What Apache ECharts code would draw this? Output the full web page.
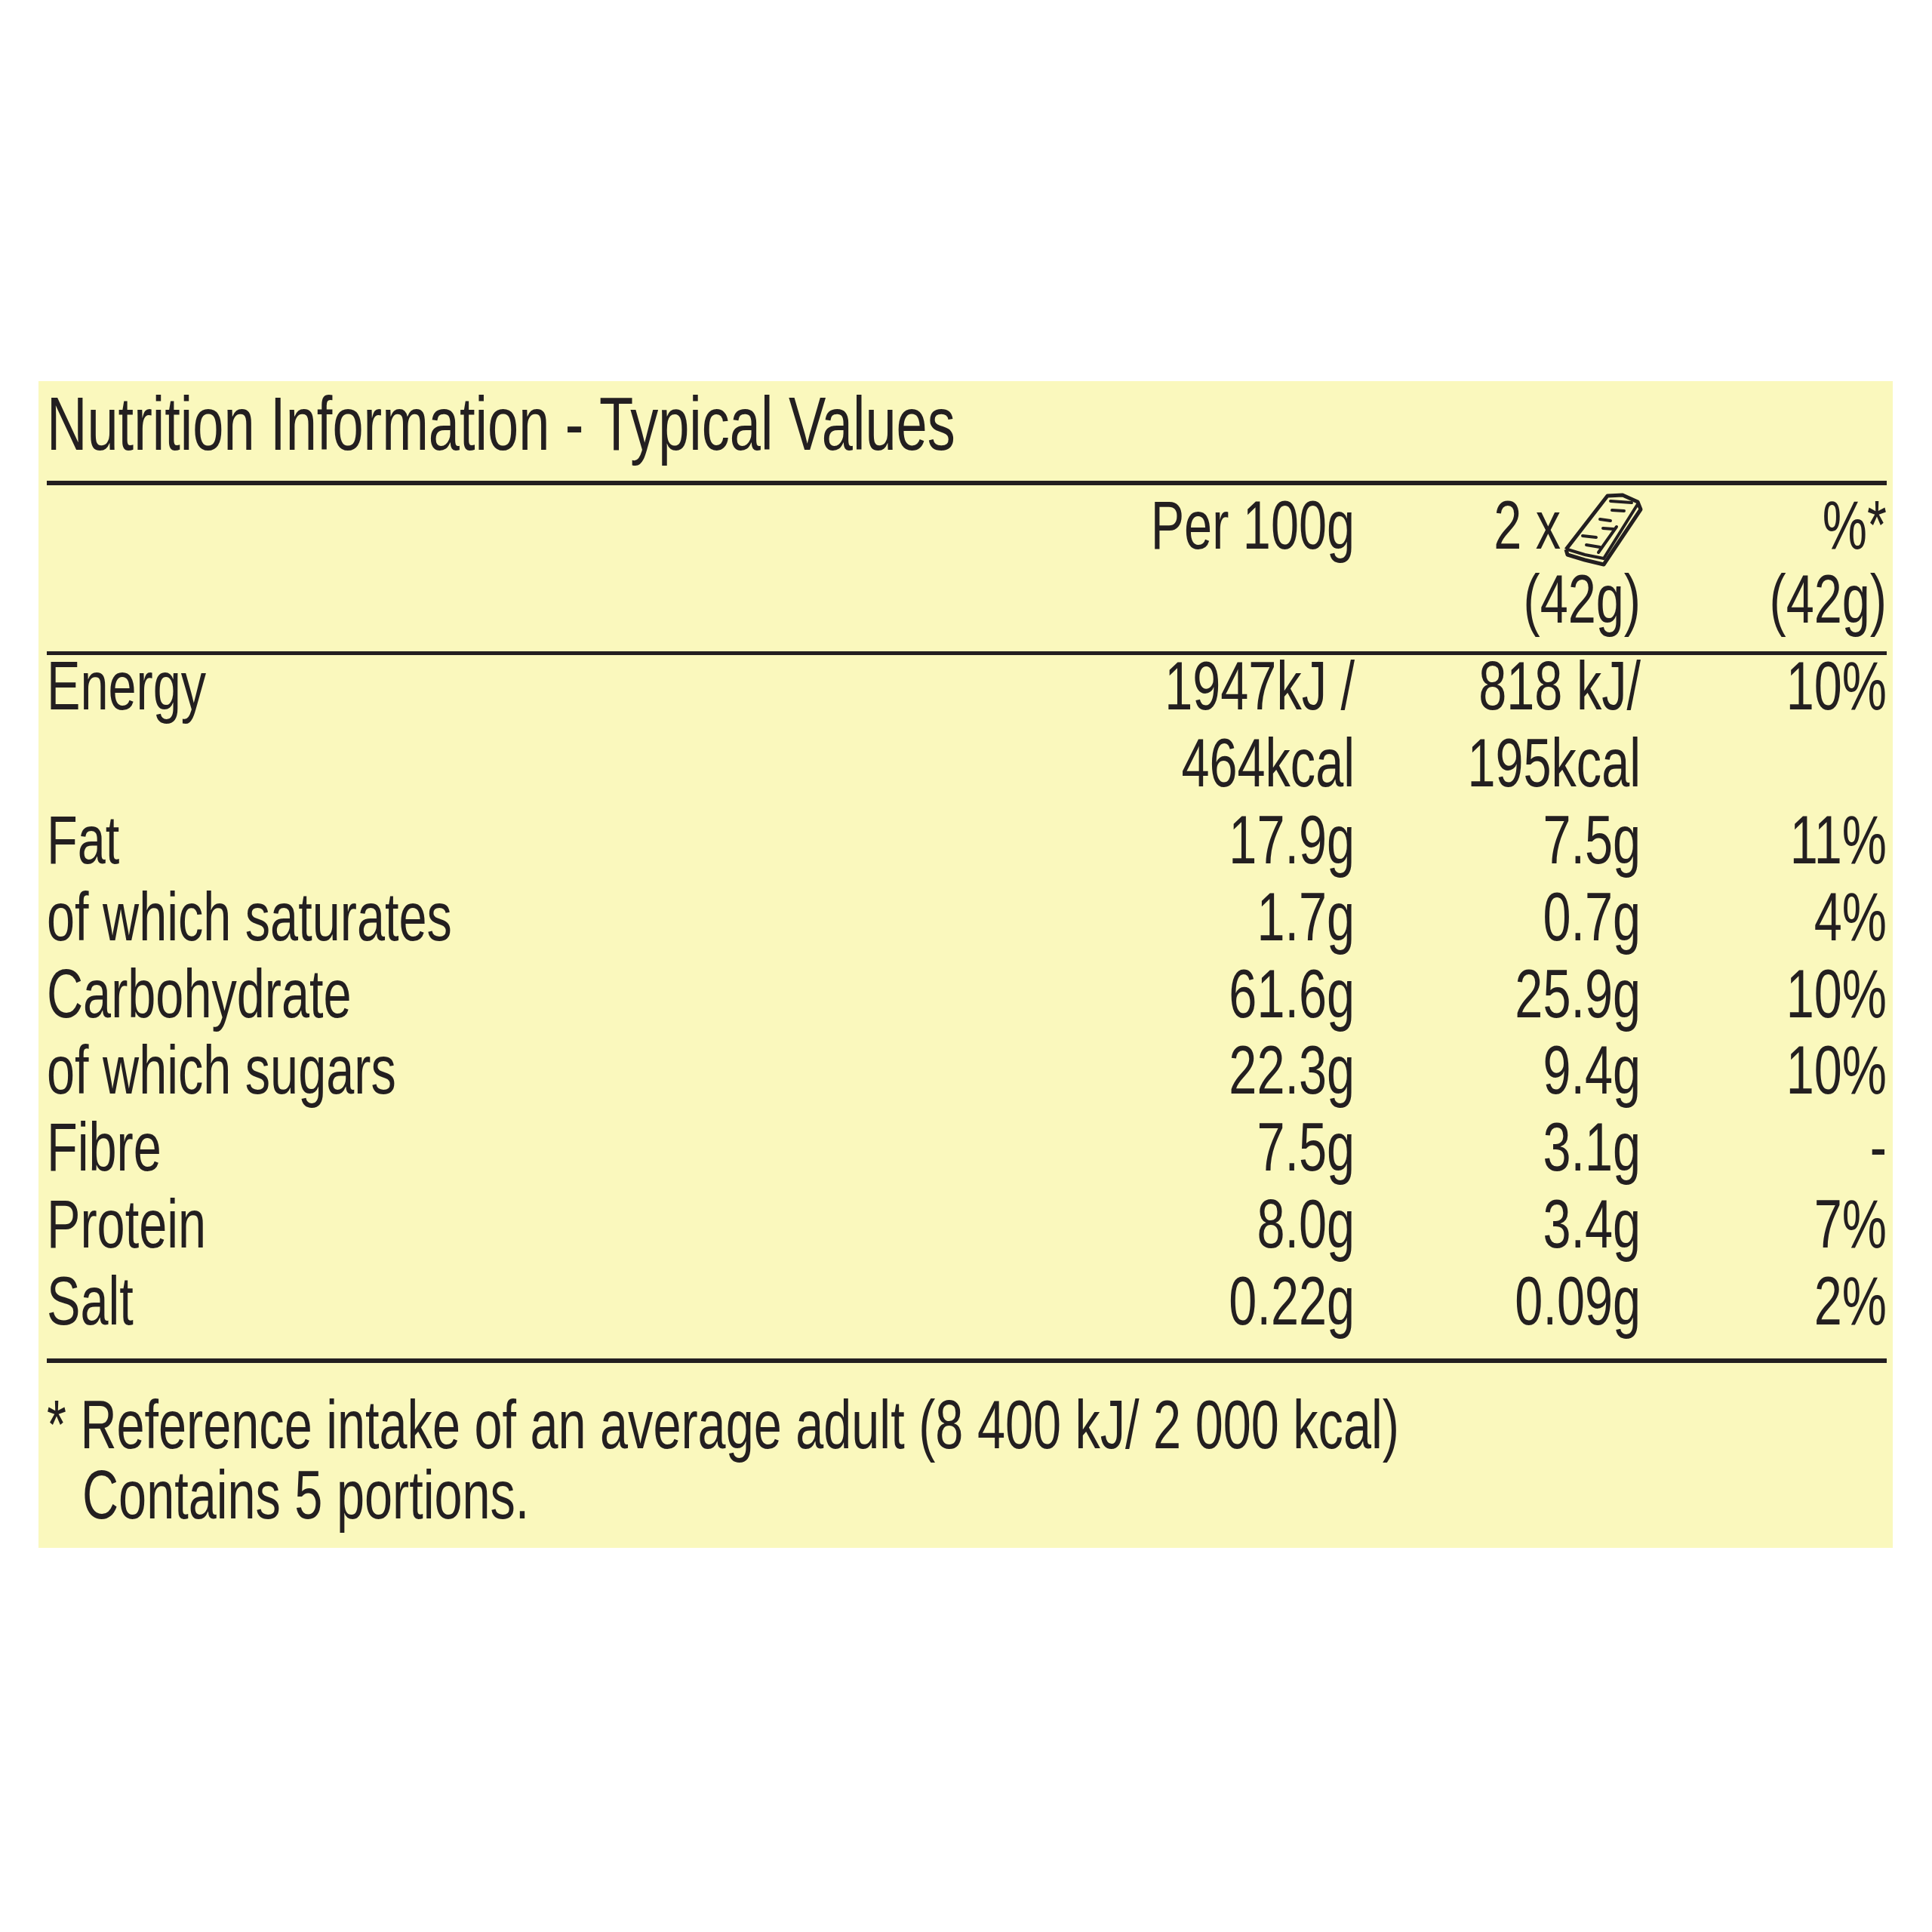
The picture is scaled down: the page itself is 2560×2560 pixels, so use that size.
<!DOCTYPE html>
<html><head><meta charset="utf-8">
<script src="https://cdn.jsdelivr.net/npm/echarts@6/dist/echarts.min.js"></script>
<style>html,body{margin:0;padding:0;background:#fff}#c{width:2560px;height:2560px}</style>
</head><body><div id="c"></div>
<script>
const title = 'Nutrition Information - Typical Values';
const headers = ['Per 100g', '2 x', '%*'];
const subHeaders = ['', '(42g)', '(42g)'];
const nutrients = ['Energy', '', 'Fat', 'of which saturates', 'Carbohydrate', 'of which sugars', 'Fibre', 'Protein', 'Salt'];
const per100g = ['1947kJ /', '464kcal', '17.9g', '1.7g', '61.6g', '22.3g', '7.5g', '8.0g', '0.22g'];
const perPortion = ['818 kJ/', '195kcal', '7.5g', '0.7g', '25.9g', '9.4g', '3.1g', '3.4g', '0.09g'];
const percentRI = ['10%', '', '11%', '4%', '10%', '10%', '-', '7%', '2%'];
const footnotes = ['* Reference intake of an average adult (8 400 kJ/ 2 000 kcal)', 'Contains 5 portions.'];

const FONT = '"Liberation Sans",Arial,sans-serif';
const INK = '#231f20';
const FS = 90, SX = 0.74;
function txt(x, base, s, align, fs) {
  fs = fs || FS;
  return {type:'text', x:x, y:base - fs*0.36, scaleX:SX,
    style:{text:s, x:0, y:0, fill:INK, font: fs+'px '+FONT, align:align||'left', verticalAlign:'middle'}};
}
function ln(x1,y1,x2,y2,w){return {type:'line', shape:{x1:x1,y1:y1,x2:x2,y2:y2}, style:{stroke:INK, lineWidth:w||4, lineCap:'round'}};}
const g = [];
g.push({type:'rect', shape:{x:51,y:505,width:2457,height:1546}, style:{fill:'#faf8bd'}});
g.push(txt(62, 604, title, 'left', 100));
g.push({type:'rect', shape:{x:62,y:637,width:2438,height:6}, style:{fill:INK}});
const colX = [1795, 2174, 2500];
g.push(txt(colX[0], 735, headers[0], 'right'));
g.push(txt(2068, 735, headers[1], 'right'));
g.push(txt(colX[2], 735, headers[2], 'right'));
g.push(txt(colX[1], 833, subHeaders[1], 'right'));
g.push(txt(colX[2], 833, subHeaders[2], 'right'));
// bar icon
g.push({type:'polyline', shape:{points:[[2075,728],[2130,657],[2150,656],[2170,665],[2174,675],[2125,748],[2100,742],[2077,735],[2075,728]]}, style:{fill:'none', stroke:INK, lineWidth:5, lineJoin:'round'}});
g.push({type:'polyline', shape:{points:[[2077,728],[2100,735],[2125,740],[2170,668]]}, style:{fill:'none', stroke:INK, lineWidth:4}});
[[2134,664,2162,666],[2136,676,2152,677],[2120,688,2134,690],[2124,700,2138,701],[2097,710,2115,712],[2102,722,2120,725],[2142,698,2118,732]].forEach(a=>g.push(ln(a[0],a[1],a[2],a[3],4)));
g.push({type:'rect', shape:{x:62,y:863,width:2438,height:5}, style:{fill:INK}});
const base0 = 948, step = 101.8;
nutrients.forEach((n,i)=>{
  const b = base0 + i*step;
  if (n) g.push(txt(62, b, n));
  g.push(txt(colX[0], b, per100g[i], 'right'));
  g.push(txt(colX[1], b, perPortion[i], 'right'));
  if (percentRI[i]) g.push(txt(colX[2], b, percentRI[i], 'right'));
});
g.push({type:'rect', shape:{x:62,y:1800,width:2438,height:6}, style:{fill:INK}});
g.push(txt(62, 1927, footnotes[0]));
g.push(txt(109, 2020, footnotes[1]));
const chart = echarts.init(document.getElementById('c'));
chart.setOption({animation:false, graphic:{elements:g}});
</script></body></html>
